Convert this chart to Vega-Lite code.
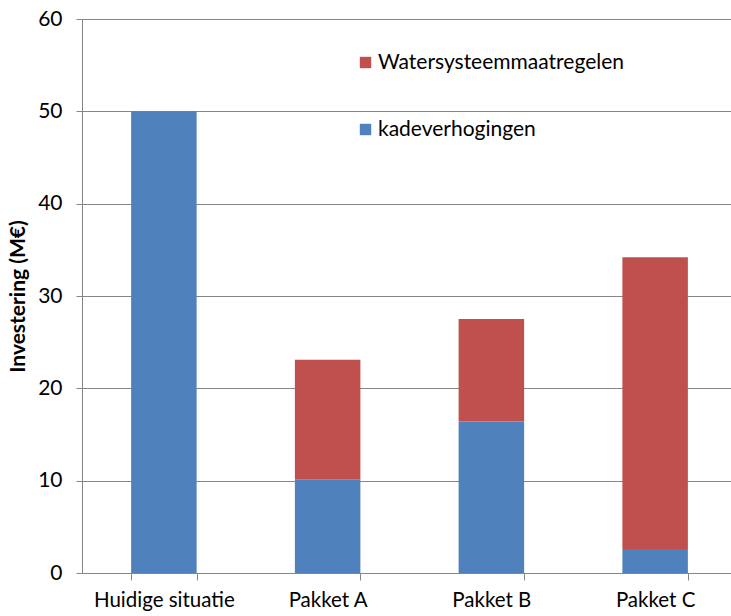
{
  "$schema": "https://vega.github.io/schema/vega-lite/v6.json",
  "width": 655,
  "height": 554,
  "autosize": "none",
  "padding": {"left": 82, "top": 19, "right": 0, "bottom": 43},
  "background": "white",
  "config": {
    "view": {"stroke": null},
    "font": "Lato"
  },
  "data": {
    "values": [
      {"category": "Huidige situatie", "series": "kadeverhogingen", "value": 50},
      {"category": "Pakket A", "series": "kadeverhogingen", "value": 10.15},
      {"category": "Pakket A", "series": "Watersysteemmaatregelen", "value": 12.95},
      {"category": "Pakket B", "series": "kadeverhogingen", "value": 16.4},
      {"category": "Pakket B", "series": "Watersysteemmaatregelen", "value": 11.1},
      {"category": "Pakket C", "series": "kadeverhogingen", "value": 2.6},
      {"category": "Pakket C", "series": "Watersysteemmaatregelen", "value": 31.6}
    ]
  },
  "mark": {"type": "bar"},
  "encoding": {
    "x": {
      "field": "category",
      "type": "nominal",
      "sort": null,
      "scale": {"paddingInner": 0.6, "paddingOuter": 0.3},
      "axis": {
        "title": null,
        "labelAngle": 0,
        "labelFont": "Lato",
        "labelFontSize": 20.5,
        "labelColor": "#000000",
        "labelPadding": 10,
        "labelLimit": 300,
        "tickBand": "extent",
        "tickSize": 7,
        "tickColor": "#868686",
        "domainColor": "#868686",
        "grid": false
      }
    },
    "y": {
      "field": "value",
      "type": "quantitative",
      "stack": "zero",
      "scale": {"domain": [0, 60], "nice": false},
      "axis": {
        "title": "Investering (M€)",
        "titleFont": "Lato",
        "titleFontSize": 21,
        "titleFontWeight": "bold",
        "titleColor": "#000000",
        "titlePadding": 9,
        "values": [0, 10, 20, 30, 40, 50, 60],
        "labelFont": "Lato",
        "labelFontSize": 21,
        "labelColor": "#000000",
        "labelPadding": 14,
        "tickSize": 6,
        "tickColor": "#868686",
        "domainColor": "#868686",
        "grid": true,
        "gridColor": "#868686",
        "gridWidth": 1
      }
    },
    "color": {
      "field": "series",
      "type": "nominal",
      "scale": {
        "domain": ["Watersysteemmaatregelen", "kadeverhogingen"],
        "range": ["#C0504D", "#4F81BD"]
      },
      "legend": {
        "title": null,
        "orient": "none",
        "legendX": 273,
        "legendY": 33,
        "padding": 0,
        "symbolType": "square",
        "symbolSize": 130,
        "symbolStrokeWidth": 0,
        "labelFont": "Lato",
        "labelFontSize": 21,
        "labelColor": "#000000",
        "labelOffset": 2,
        "labelLimit": 400,
        "rowPadding": 45
      }
    },
    "order": {"field": "series", "sort": "descending"}
  }
}
